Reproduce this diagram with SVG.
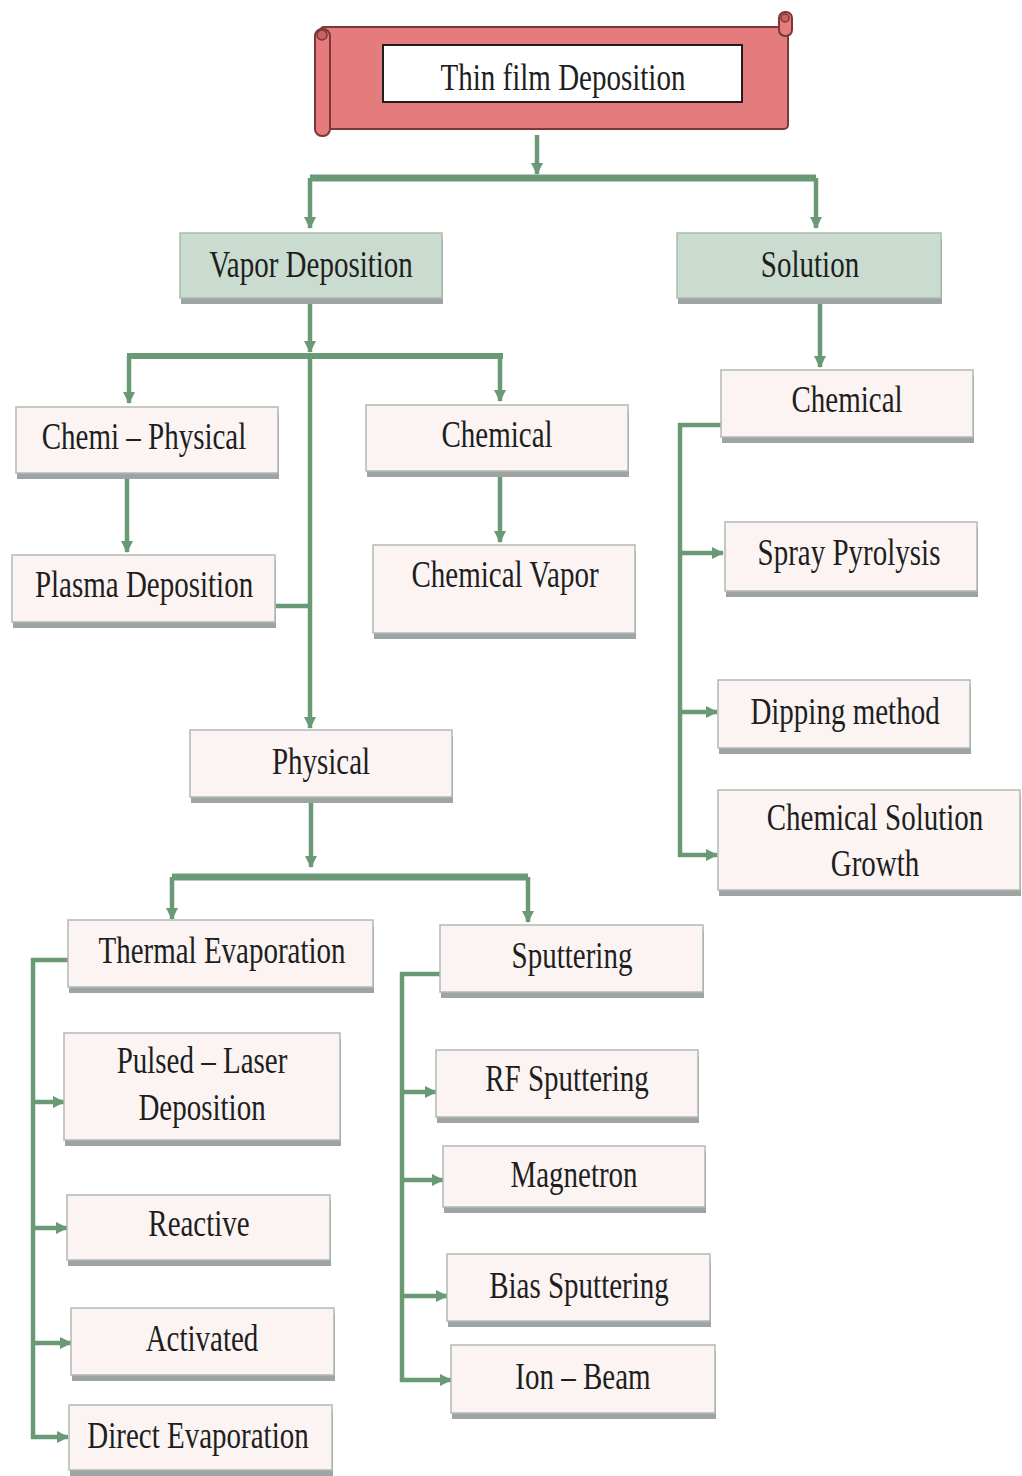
<svg xmlns="http://www.w3.org/2000/svg" width="1022" height="1476" viewBox="0 0 1022 1476">
<style>
.bx{fill:#fbf4f3;stroke:#b3b8b7;stroke-width:1.5}
.gb{fill:#c9dccf;stroke:#a9bcb0;stroke-width:1.5}
.sh{fill:#9ea4a3}
.t{font-family:"Liberation Serif","Times New Roman",serif;font-size:29px;fill:#1e1e1e;text-anchor:middle}
.c{fill:none;stroke:#6a9a75;stroke-width:4.5;stroke-linejoin:miter}
.bar{fill:none;stroke:#6a9a75;stroke-width:7}
.scr{fill:#e47b7c;stroke:#7c3838;stroke-width:2}
</style>
<defs>
<marker id="ah" markerUnits="userSpaceOnUse" markerWidth="12" markerHeight="12" refX="11" refY="6" orient="auto">
<path d="M0,0 L12,6 L0,12 z" fill="#6a9a75"/>
</marker>
</defs>
<rect width="1022" height="1476" fill="#ffffff"/>

<g id="connectors">
<path class="c" d="M537 135 V174" marker-end="url(#ah)"/>
<path class="bar" d="M310 178 H816"/>
<path class="c" d="M310 178 V228" marker-end="url(#ah)"/>
<path class="c" d="M816 178 V228" marker-end="url(#ah)"/>
<path class="c" d="M310 303 V352" marker-end="url(#ah)"/>
<path class="bar" d="M127 356 H503" style="stroke-width:6"/>
<path class="c" d="M129 356 V403" marker-end="url(#ah)"/>
<path class="c" d="M500 356 V401" marker-end="url(#ah)"/>
<path class="c" d="M310 356 V728" marker-end="url(#ah)"/>
<path class="c" d="M275 606 H312"/>
<path class="c" d="M127 479 V552" marker-end="url(#ah)"/>
<path class="c" d="M500 466 V542" marker-end="url(#ah)"/>
<path class="c" d="M820 303 V367" marker-end="url(#ah)"/>
<path class="c" d="M721 425 H680 V855 H717" marker-end="url(#ah)"/>
<path class="c" d="M680 553 H723" marker-end="url(#ah)"/>
<path class="c" d="M680 712 H717" marker-end="url(#ah)"/>
<path class="c" d="M311 803 V867" marker-end="url(#ah)"/>
<path class="bar" d="M172 877 H528"/>
<path class="c" d="M172 877 V919" marker-end="url(#ah)"/>
<path class="c" d="M528 877 V922" marker-end="url(#ah)"/>
<path class="c" d="M68 960 H33 V1437 H68" marker-end="url(#ah)"/>
<path class="c" d="M33 1102 H64" marker-end="url(#ah)"/>
<path class="c" d="M33 1228 H67" marker-end="url(#ah)"/>
<path class="c" d="M33 1343 H71" marker-end="url(#ah)"/>
<path class="c" d="M440 974 H402 V1380 H451" marker-end="url(#ah)"/>
<path class="c" d="M402 1092 H436" marker-end="url(#ah)"/>
<path class="c" d="M402 1180 H443" marker-end="url(#ah)"/>
<path class="c" d="M402 1296 H447" marker-end="url(#ah)"/>
</g>

<g id="root">
<rect class="scr" x="320" y="27" width="468" height="102" rx="4"/>
<rect class="scr" x="779" y="12" width="13" height="24" rx="6"/>
<circle cx="785" cy="18" r="4" fill="#c96262" stroke="#7c3838" stroke-width="1.5"/>
<rect class="scr" x="315" y="29" width="15" height="107" rx="7"/>
<circle cx="322" cy="35" r="5" fill="#c96262" stroke="#7c3838" stroke-width="1.5"/>
<rect x="383" y="45" width="359" height="57" fill="#ffffff" stroke="#1e1e1e" stroke-width="2"/>
<text class="t" transform="translate(563 90) scale(1 1.3)">Thin film Deposition</text>
</g>

<g id="vapor"><rect class="sh" x="181" y="239" width="262" height="65"/><rect class="gb" x="180" y="233" width="262" height="65"/><text class="t" transform="translate(311 277) scale(1 1.3)">Vapor Deposition</text></g>
<g id="solution"><rect class="sh" x="678" y="239" width="264" height="65"/><rect class="gb" x="677" y="233" width="264" height="65"/><text class="t" transform="translate(810 277) scale(1 1.3)">Solution</text></g>

<g id="chemiphys"><rect class="sh" x="17" y="413" width="262" height="66"/><rect class="bx" x="16" y="407" width="262" height="66"/><text class="t" transform="translate(144 449) scale(1 1.3)">Chemi – Physical</text></g>
<g id="chemvap"><rect class="sh" x="367" y="411" width="262" height="66"/><rect class="bx" x="366" y="405" width="262" height="66"/><text class="t" transform="translate(497 447) scale(1 1.3)">Chemical</text></g>
<g id="plasma"><rect class="sh" x="13" y="561" width="263" height="67"/><rect class="bx" x="12" y="555" width="263" height="67"/><text class="t" transform="translate(144 597) scale(1 1.3)">Plasma Deposition</text></g>
<g id="chemicalvapor"><rect class="sh" x="374" y="551" width="262" height="88"/><rect class="bx" x="373" y="545" width="262" height="88"/><text class="t" transform="translate(505 587) scale(1 1.3)">Chemical Vapor</text></g>
<g id="physical"><rect class="sh" x="191" y="736" width="262" height="67"/><rect class="bx" x="190" y="730" width="262" height="67"/><text class="t" transform="translate(321 774) scale(1 1.3)">Physical</text></g>

<g id="chemsol"><rect class="sh" x="722" y="376" width="252" height="67"/><rect class="bx" x="721" y="370" width="252" height="67"/><text class="t" transform="translate(847 412) scale(1 1.3)">Chemical</text></g>
<g id="spray"><rect class="sh" x="726" y="528" width="252" height="69"/><rect class="bx" x="725" y="522" width="252" height="69"/><text class="t" transform="translate(849 565) scale(1 1.3)">Spray Pyrolysis</text></g>
<g id="dipping"><rect class="sh" x="719" y="686" width="252" height="68"/><rect class="bx" x="718" y="680" width="252" height="68"/><text class="t" transform="translate(845 724) scale(1 1.3)">Dipping method</text></g>
<g id="csg"><rect class="sh" x="719" y="796" width="302" height="100"/><rect class="bx" x="718" y="790" width="302" height="100"/><text class="t" transform="translate(875 830) scale(1 1.3)">Chemical Solution</text><text class="t" transform="translate(875 876) scale(1 1.3)">Growth</text></g>

<g id="thermal"><rect class="sh" x="69" y="926" width="305" height="67"/><rect class="bx" x="68" y="920" width="305" height="67"/><text class="t" transform="translate(222 963) scale(1 1.3)">Thermal Evaporation</text></g>
<g id="sputtering"><rect class="sh" x="441" y="931" width="263" height="67"/><rect class="bx" x="440" y="925" width="263" height="67"/><text class="t" transform="translate(572 968) scale(1 1.3)">Sputtering</text></g>

<g id="pulsed"><rect class="sh" x="65" y="1039" width="276" height="107"/><rect class="bx" x="64" y="1033" width="276" height="107"/><text class="t" transform="translate(202 1073) scale(1 1.3)">Pulsed – Laser</text><text class="t" transform="translate(202 1120) scale(1 1.3)">Deposition</text></g>
<g id="reactive"><rect class="sh" x="68" y="1201" width="263" height="65"/><rect class="bx" x="67" y="1195" width="263" height="65"/><text class="t" transform="translate(199 1236) scale(1 1.3)">Reactive</text></g>
<g id="activated"><rect class="sh" x="72" y="1314" width="263" height="67"/><rect class="bx" x="71" y="1308" width="263" height="67"/><text class="t" transform="translate(202 1351) scale(1 1.3)">Activated</text></g>
<g id="direct"><rect class="sh" x="70" y="1411" width="263" height="65"/><rect class="bx" x="69" y="1405" width="263" height="65"/><text class="t" transform="translate(198 1448) scale(1 1.3)">Direct Evaporation</text></g>

<g id="rf"><rect class="sh" x="437" y="1056" width="262" height="67"/><rect class="bx" x="436" y="1050" width="262" height="67"/><text class="t" transform="translate(567 1091) scale(1 1.3)">RF Sputtering</text></g>
<g id="magnetron"><rect class="sh" x="444" y="1152" width="262" height="61"/><rect class="bx" x="443" y="1146" width="262" height="61"/><text class="t" transform="translate(574 1187) scale(1 1.3)">Magnetron</text></g>
<g id="bias"><rect class="sh" x="448" y="1260" width="263" height="67"/><rect class="bx" x="447" y="1254" width="263" height="67"/><text class="t" transform="translate(579 1298) scale(1 1.3)">Bias Sputtering</text></g>
<g id="ion"><rect class="sh" x="452" y="1351" width="264" height="68"/><rect class="bx" x="451" y="1345" width="264" height="68"/><text class="t" transform="translate(583 1389) scale(1 1.3)">Ion – Beam</text></g>
</svg>
